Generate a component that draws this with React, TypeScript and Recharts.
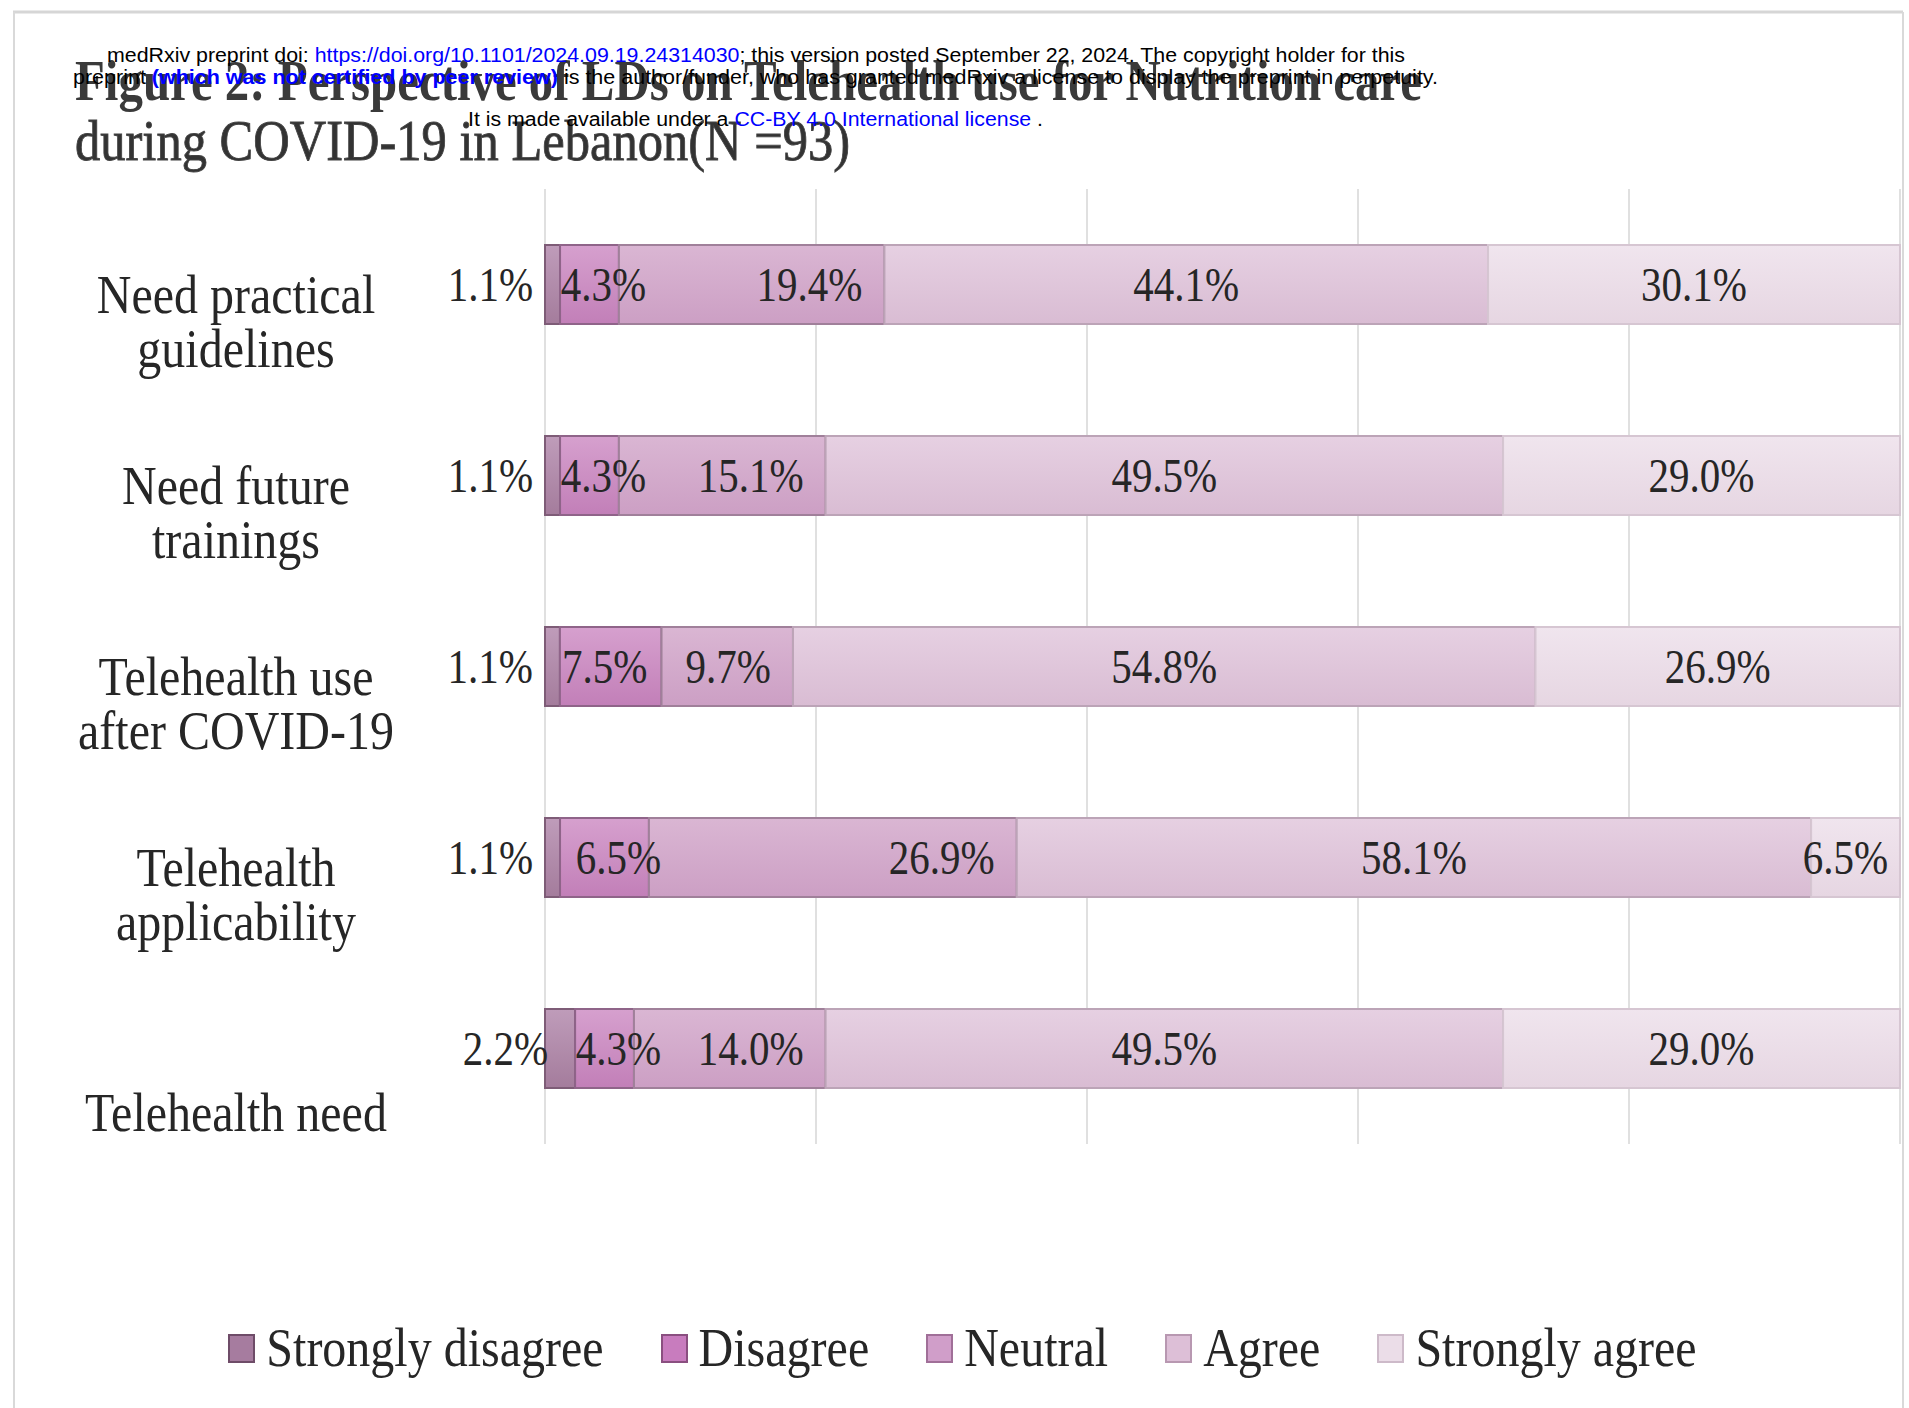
import React from 'react';
import { BarChart, Bar, XAxis, YAxis, CartesianGrid, Legend, LabelList } from 'recharts';

// ---------- data ----------
const categories = [
  'Need practical\nguidelines',
  'Need future\ntrainings',
  'Telehealth use\nafter COVID-19',
  'Telehealth\napplicability',
  '\nTelehealth need',
];
const stronglyDisagree = [1.1, 1.1, 1.1, 1.1, 2.2];
const disagree = [4.3, 4.3, 7.5, 6.5, 4.3];
const neutral = [19.4, 15.1, 9.7, 26.9, 14.0];
const agree = [44.1, 49.5, 54.8, 58.1, 49.5];
const stronglyAgree = [30.1, 29.0, 26.9, 6.5, 29.0];
const seriesNames = ['Strongly disagree', 'Disagree', 'Neutral', 'Agree', 'Strongly agree'];
const xTicks = [0, 0.2, 0.4, 0.6, 0.8, 1];

const data = categories.map((c, i) => ({
  name: c,
  sd: stronglyDisagree[i],
  d: disagree[i],
  n: neutral[i],
  a: agree[i],
  sa: stronglyAgree[i],
}));

const SERIF = "'Liberation Serif', 'Times New Roman', serif";
const SANS = "'Liberation Sans', Arial, sans-serif";
const TXT = '#262626';

const series = [
  { key: 'sd', values: stronglyDisagree, top: '#bf9cba', bottom: '#a47c9c', stroke: '#7e5c77', legend: '#a67c9f', legendBorder: '#6e4c68', mode: 'outside' },
  { key: 'd', values: disagree, top: '#d6a0ce', bottom: '#c27fb8', stroke: '#8f6489', legend: '#c87cbe', legendBorder: '#8a4f80', mode: 'small' },
  { key: 'n', values: neutral, top: '#dab6d3', bottom: '#cc9fc4', stroke: '#a0809a', legend: '#d09ec9', legendBorder: '#a06f98', mode: 'end' },
  { key: 'a', values: agree, top: '#e6d0e2', bottom: '#d9bcd3', stroke: '#bca4b7', legend: '#ddbfd7', legendBorder: '#b898b1', mode: 'center' },
  { key: 'sa', values: stronglyAgree, top: '#f0e5ee', bottom: '#e6d6e2', stroke: '#d6c6d2', legend: '#ebdde8', legendBorder: '#cdbac9', mode: 'center' },
];

const makeLabel = (mode: string, arr: number[]) => (props: any) => {
  const { x, y, width, height, index } = props;
  const v = arr[index];
  if (v == null) return null;
  const X = Number(x);
  const W = Number(width);
  const cy = Number(y) + Number(height) / 2;
  let tx = X + W / 2;
  let anchor: 'start' | 'middle' | 'end' = 'middle';
  if (mode === 'outside') {
    tx = X + W - 27;
    anchor = 'end';
  } else if (mode === 'end') {
    tx = X + W - 22;
    anchor = 'end';
  } else if (mode === 'small') {
    if (W < 95) tx = X + W / 2 + 14;
    else tx = X + W / 2 - 6;
  } else if (W < 100) {
    tx = X + W / 2 - 10;
  }
  return (
    <text
      transform={`translate(${tx},${cy + 16}) scale(1,1.2)`}
      textAnchor={anchor}
      fontFamily={SERIF}
      fontSize={41}
      fill={TXT}
    >
      {v.toFixed(1)}%
    </text>
  );
};

const CategoryTick = (props: any) => {
  const { y, payload } = props;
  const lines = String(payload.value).split('\n');
  return (
    <g>
      {lines.map((ln, i) =>
        ln ? (
          <text
            key={i}
            transform={`translate(236,${Number(y) + 28 + i * 54}) scale(1,1.15)`}
            textAnchor="middle"
            fontFamily={SERIF}
            fontSize={48}
            fill={TXT}
          >
            {ln}
          </text>
        ) : null
      )}
    </g>
  );
};

const LegendContent = () => (
  <div
    style={{
      display: 'flex',
      justifyContent: 'center',
      alignItems: 'center',
      height: 70,
      paddingLeft: 16,
      fontFamily: SERIF,
      color: TXT,
    }}
  >
    {series.map((s, i) => (
      <div key={s.key} style={{ display: 'flex', alignItems: 'center', marginLeft: i === 0 ? 0 : 57 }}>
        <span
          style={{
            display: 'inline-block',
            width: 23,
            height: 25,
            background: s.legend,
            border: `2px solid ${s.legendBorder}`,
            marginRight: 11,
          }}
        />
        <span
          style={{
            display: 'inline-block',
            fontSize: 48,
            lineHeight: '48px',
            transform: 'scale(1,1.15)',
            whiteSpace: 'nowrap',
          }}
        >
          {seriesNames[i]}
        </span>
      </div>
    ))}
  </div>
);

export default function App() {
  return (
    <div style={{ position: 'absolute', left: 0, top: 0, width: 1909, height: 1408, background: '#fff', overflow: 'hidden' }}>
      <svg width={0} height={0} style={{ position: 'absolute' }}>
        <defs>
          {series.map((s) => (
            <linearGradient key={s.key} id={`grad-${s.key}`} x1="0" y1="0" x2="0" y2="1">
              <stop offset="0%" stopColor={s.top} />
              <stop offset="100%" stopColor={s.bottom} />
            </linearGradient>
          ))}
        </defs>
      </svg>

      <div style={{ position: 'absolute', left: 0, top: 0 }}>
        <BarChart
          width={1909}
          height={1408}
          data={data}
          layout="vertical"
          stackOffset="expand"
          margin={{ top: 189, right: 9, bottom: 264, left: 0 }}
        >
          <CartesianGrid horizontal={false} vertical stroke="#d6d6d6" strokeWidth={1.5} />
          <XAxis
            type="number"
            domain={[0, 1]}
            ticks={xTicks}
            interval={0}
            tick={{ fill: 'transparent', fontSize: 1 }}
            tickLine={false}
            axisLine={false}
            height={0}
          />
          <YAxis
            type="category"
            dataKey="name"
            width={545}
            tickLine={false}
            axisLine={false}
            tick={<CategoryTick />}
            interval={0}
          />
          <Legend
            layout="horizontal"
            verticalAlign="middle"
            align="center"
            wrapperStyle={{ top: 1313, left: 0, width: 1909 }}
            content={<LegendContent />}
          />
          {series.map((s, i) => (
            <Bar
              key={s.key}
              dataKey={s.key}
              name={seriesNames[i]}
              stackId="a"
              barSize={79}
              fill={`url(#grad-${s.key})`}
              stroke={s.stroke}
              strokeWidth={2}
              isAnimationActive={false}
            >
              <LabelList dataKey={s.key} content={makeLabel(s.mode, s.values)} />
            </Bar>
          ))}
        </BarChart>
      </div>

      <svg
        width={1909}
        height={1408}
        style={{ position: 'absolute', left: 0, top: 0, pointerEvents: 'none' }}
      >
        <line x1={13} y1={12} x2={1903} y2={12} stroke="#d6d6d6" strokeWidth={3} />
        <line x1={14} y1={12} x2={14} y2={1408} stroke="#d9d9d9" strokeWidth={2} />
        <line x1={1903} y1={12} x2={1903} y2={1408} stroke="#d9d9d9" strokeWidth={2} />

        <text
          transform="translate(75,100) scale(1,1.15)"
          fontFamily={SERIF}
          fontSize={50}
          fontWeight="bold"
          fill="#3a3a3a"
          textLength={1347}
          lengthAdjust="spacingAndGlyphs"
        >
          Figure 2: Perspective of LDs on Telehealth use for Nutrition care
        </text>
        <text
          transform="translate(75,160) scale(1,1.15)"
          fontFamily={SERIF}
          fontSize={50}
          fill="#333"
          stroke="#444"
          strokeWidth={0.8}
          textLength={775}
          lengthAdjust="spacingAndGlyphs"
        >
          during COVID-19 in Lebanon(N =93)
        </text>

        <text x={107} y={62} fontFamily={SANS} fontSize={20} fill="#000" textLength={1298} lengthAdjust="spacingAndGlyphs">
          medRxiv preprint doi:{' '}
          <tspan fill="#0000ff">https://doi.org/10.1101/2024.09.19.24314030</tspan>
          ; this version posted September 22, 2024. The copyright holder for this
        </text>
        <text x={73} y={84} fontFamily={SANS} fontSize={20} fill="#000" textLength={1365} lengthAdjust="spacingAndGlyphs">
          preprint{' '}
          <tspan fill="#0000ff" fontWeight="bold">(which was not certified by peer review)</tspan>
          {' '}is the author/funder, who has granted medRxiv a license to display the preprint in perpetuity.
        </text>
        <text x={468} y={126} fontFamily={SANS} fontSize={20} fill="#000" textLength={575} lengthAdjust="spacingAndGlyphs">
          It is made available under a{' '}
          <tspan fill="#0000ff">CC-BY 4.0 International license</tspan>
          {' '}.
        </text>
      </svg>
    </div>
  );
}
